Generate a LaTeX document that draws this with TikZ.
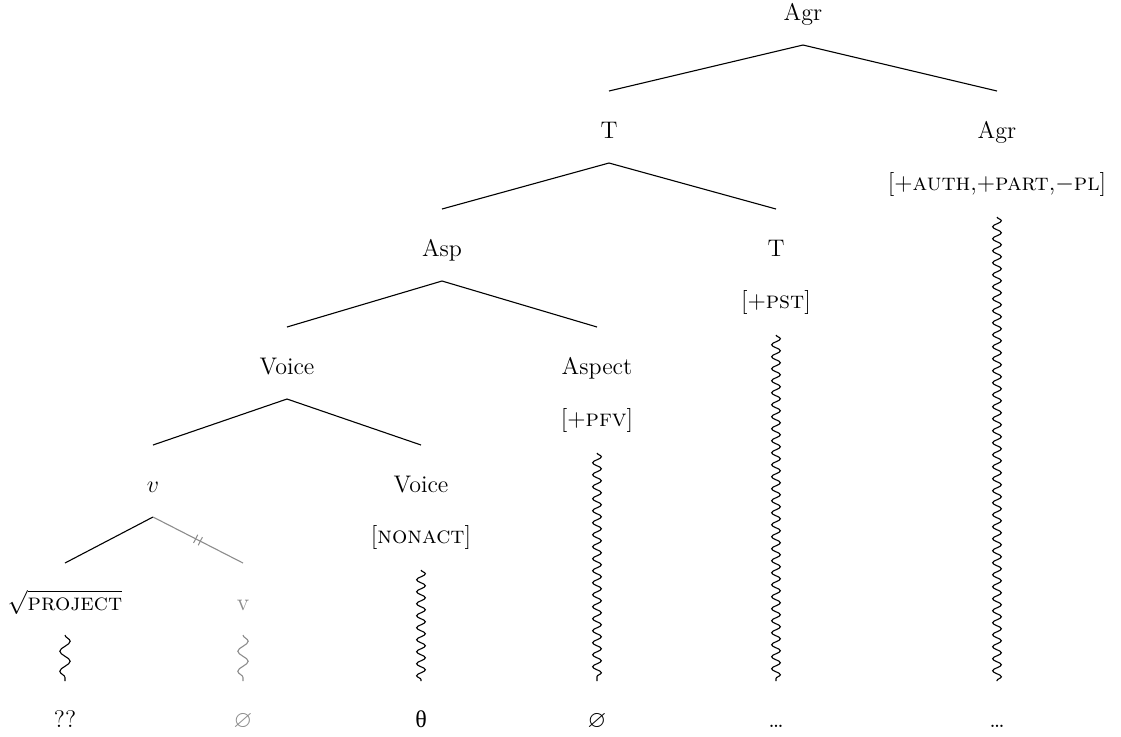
\documentclass[tikz,border=0pt]{standalone}
\usepackage{amssymb}
\usepackage{fontspec}
\newfontfamily\grkfont{Liberation Serif}
\usetikzlibrary{calc,decorations.pathmorphing,decorations.markings}
\begin{document}
\begin{tikzpicture}[x=0.5pt,y=-0.5pt,
  lab/.style={inner sep=0pt,anchor=base,font=\fontsize{12}{14}\selectfont},
  greyed/.style={text=black!45},
  branch/.style={line width=0.55pt},
  greybranch/.style={line width=0.55pt,draw=black!45},
  longsnake/.style={line width=0.55pt,decorate,decoration={snake,segment length=6pt,amplitude=2.2pt}},
  shortsnake/.style={line width=0.55pt,decorate,decoration={snake,segment length=10pt,amplitude=2.6pt}},
  cutmark/.style={postaction={decorate,decoration={markings,mark=at position 0.5 with {\draw[line width=0.5pt,black!45] (-1.3pt,-2.3pt) -- (-1.3pt,2.3pt) (1.3pt,-2.3pt) -- (1.3pt,2.3pt);}}}}
]
\useasboundingbox (0,0) rectangle (1121,736);

% labels
\node[lab] (agr) at (803,20) {Agr};
\node[lab] (t) at (609,138) {T};
\node[lab] (agrh) at (997,138) {Agr};
\node[lab] (agrf) at (997,190) {[$+$\textsc{auth},$+$\textsc{part},$-$\textsc{pl}]};
\node[lab] (asp) at (442,256) {Asp};
\node[lab] (th) at (776,256) {T};
\node[lab] (tf) at (776,308) {[$+$\textsc{pst}]};
\node[lab] (voice) at (287,374) {Voice};
\node[lab] (asph) at (597,374) {Aspect};
\node[lab] (aspf) at (597,426) {[$+$\textsc{pfv}]};
\node[lab] (v) at (153,492) {$v$};
\node[lab] (voiceh) at (421,492) {Voice};
\node[lab] (voicef) at (421,543) {[\textsc{nonact}]};
\node[lab] (rt) at (65,610) {$\sqrt{\mbox{\textsc{project}}}$};
\node[lab,greyed] (vh) at (243,610) {v};

% bottom row
\node[lab] (b1) at (65,727) {??};
\node[lab,greyed] (b2) at (243,727) {$\varnothing$};
\node[lab] (b3) at (421,727) {\grkfont θ};
\node[lab] (b4) at (597,727) {$\varnothing$};
\node[lab] (b5) at (776,727) {\dots};
\node[lab] (b6) at (997,727) {\dots};

% branches
\draw[branch] ($(agr.base)+(0,25)$) -- ($(t.base)+(0,-47)$);
\draw[branch] ($(agr.base)+(0,25)$) -- ($(agrh.base)+(0,-47)$);
\draw[branch] ($(t.base)+(0,25)$) -- ($(asp.base)+(0,-47)$);
\draw[branch] ($(t.base)+(0,25)$) -- ($(th.base)+(0,-47)$);
\draw[branch] ($(asp.base)+(0,25)$) -- ($(voice.base)+(0,-47)$);
\draw[branch] ($(asp.base)+(0,25)$) -- ($(asph.base)+(0,-47)$);
\draw[branch] ($(voice.base)+(0,25)$) -- ($(v.base)+(0,-47)$);
\draw[branch] ($(voice.base)+(0,25)$) -- ($(voiceh.base)+(0,-47)$);
\draw[branch] ($(v.base)+(0,25)$) -- ($(rt.base)+(0,-47)$);
\draw[greybranch,cutmark] ($(v.base)+(0,25)$) -- ($(vh.base)+(0,-47)$);

% exponence squiggles
\draw[longsnake] ($(agrf.base)+(0,27)$) -- ($(b6.base)+(0,-46)$);
\draw[longsnake] ($(tf.base)+(0,27)$) -- ($(b5.base)+(0,-46)$);
\draw[longsnake] ($(aspf.base)+(0,27)$) -- ($(b4.base)+(0,-46)$);
\draw[longsnake] ($(voicef.base)+(0,27)$) -- ($(b3.base)+(0,-46)$);
\draw[shortsnake] ($(rt.base)+(0,25)$) -- ($(b1.base)+(0,-46)$);
\draw[shortsnake,draw=black!45] ($(vh.base)+(0,25)$) -- ($(b2.base)+(0,-46)$);
\end{tikzpicture}
\end{document}
